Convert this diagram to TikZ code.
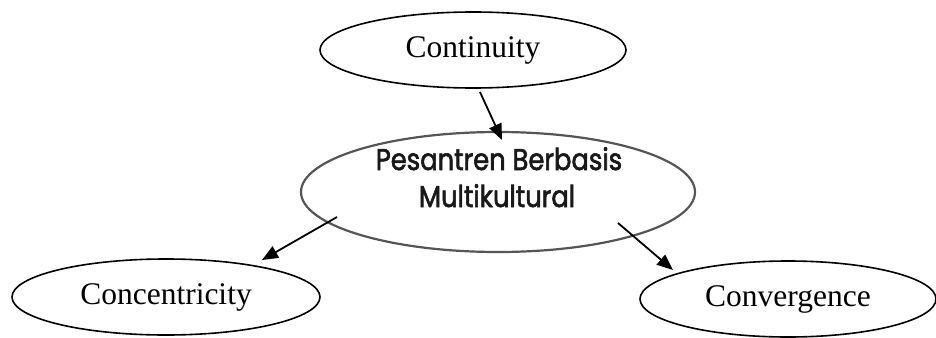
\documentclass[tikz,border=0pt]{standalone}
\usepackage{fontspec}
\setmainfont{Liberation Serif}
\newfontfamily\pbmfont[FakeStretch=0.86,FakeBold=2]{Poppins}
\usepackage{tikz}
\usetikzlibrary{shapes.geometric, arrows.meta, positioning, calc}
\definecolor{mydark}{RGB}{0,0,0}
\definecolor{mygrey}{RGB}{85,85,85}
\definecolor{mytext}{RGB}{25,25,25}
\tikzset{
  oval/.style={ellipse, draw=mydark, fill=white, inner sep=0pt,
    line width=0.8pt, font=\fontsize{15.75}{18}\selectfont},
  bigoval/.style={ellipse, draw=mygrey, fill=white, inner sep=0pt,
    line width=1.1pt},
  pbmtext/.style={font=\pbmfont\fontsize{15}{18}\selectfont,
    color=mytext, inner sep=0pt, anchor=base},
  arrow/.style={-{Triangle[length=8pt, width=6.5pt]}, line width=0.9pt, color=mydark}
}

\begin{document}
\begin{tikzpicture}[x=0.5pt, y=-0.5pt]
  \useasboundingbox (0,0) rectangle (936,337);

  % Ovals
  \node[oval, minimum width=153pt, minimum height=38pt] (cont) at (473,50) {Continuity};
  \node[bigoval, minimum width=197pt, minimum height=60pt] (pbm) at (498,192) {};
  \node[oval, minimum width=154pt, minimum height=38pt] (conc) at (166,297) {Concentricity};
  \node[oval, minimum width=148pt, minimum height=38pt] (conv) at (788,299) {Convergence};

  % Centre text
  \node[pbmtext] (pbmtop) at (499,170) {Pesantren Berbasis};
  \node[pbmtext] (pbmbot) at (497,207) {Multikultural};

  % Arrow ends
  \coordinate (contout) at (480,92);
  \coordinate (pbmin) at (502,140);
  \coordinate (pbmleft) at (337,217);
  \coordinate (concin) at (262,260);
  \coordinate (pbmright) at (618,223);
  \coordinate (convin) at (673,270);

  % Arrows
  \draw[arrow] (contout) -- (pbmin);
  \draw[arrow] (pbmleft) -- (concin);
  \draw[arrow] (pbmright) -- (convin);
\end{tikzpicture}
\end{document}
